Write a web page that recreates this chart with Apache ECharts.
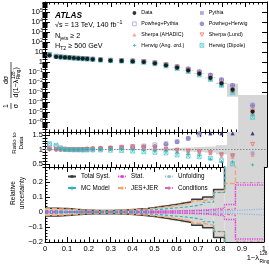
<!DOCTYPE html>
<html><head><meta charset="utf-8">
<script src="https://cdn.jsdelivr.net/npm/echarts@6/dist/echarts.min.js"></script>
<style>html,body{margin:0;padding:0;background:#fff}#c{width:269px;height:274px}</style>
</head><body><div id="c"></div>
<script>
// ---------------- data ----------------
const binEdges = [0,0.04,0.06,0.08,0.10,0.12,0.14,0.16,0.18,0.20,0.23,0.27,0.32,0.37,0.42,0.47,0.52,0.57,0.62,0.67,0.72,0.77,0.82,0.87,1.0];
const dataValues = [4.6,3.3,3.1,2.9,2.7,2.5,2.35,2.2,2.05,1.85,1.6,1.4,1.28,1.15,1.0,0.74,0.46,0.27,0.145,0.068,0.026,0.0075,0.0017,1.1e-5];

const ratioPythia       = [1.01,1.00,1.00,1.00,1.00,1.00,1.00,1.00,1.01,1.01,1.02,1.03,1.04,1.05,1.05,1.04,1.02,0.99,0.95,0.92,0.88,0.84,0.81,0.87];
const ratioPowhegPythia = [1.16,1.12,1.05,1.02,1.00,0.99,0.99,0.99,1.00,1.01,1.02,1.04,1.06,1.09,1.12,1.16,1.20,1.27,1.38,1.50,1.75,2.10,2.60,4.50];
const ratioPowhegHerwig = [1.03,1.01,1.00,1.00,1.00,1.00,1.00,1.01,1.02,1.03,1.04,1.05,1.06,1.07,1.09,1.11,1.18,1.26,1.38,1.55,1.90,2.20,2.60,4.00];
const ratioSherpaAhadic = [1.02,1.01,1.00,1.00,1.00,1.00,1.00,1.01,1.01,1.02,1.03,1.04,1.06,1.09,1.05,1.00,0.97,0.93,0.90,0.90,0.87,0.77,0.74,0.81];
const ratioSherpaLund   = [1.00,1.00,1.00,1.00,1.00,1.00,1.00,1.00,1.01,1.02,1.03,1.05,1.08,1.10,1.08,1.05,1.02,0.98,0.95,0.93,0.90,0.82,0.78,1.18];
const ratioHerwigAng    = [1.00,1.00,1.00,0.99,0.99,0.99,0.99,1.00,1.00,1.00,1.00,1.01,1.00,0.99,0.97,0.95,0.97,0.90,0.84,0.80,0.67,0.58,0.58,0.47];
const ratioHerwigDipole = [1.20,1.15,1.05,1.00,0.99,0.99,0.99,0.98,0.98,0.98,0.98,0.97,0.96,0.94,0.92,0.90,0.88,0.81,0.77,0.75,0.70,0.62,0.50,0.27];

const totalSystUp   = [0.025,0.025,0.024,0.023,0.021,0.018,0.016,0.014,0.012,0.011,0.010,0.011,0.013,0.018,0.024,0.033,0.044,0.055,0.068,0.085,0.100,0.150,3.0,45];
const totalSystDown = [0.026,0.026,0.025,0.024,0.022,0.019,0.017,0.015,0.013,0.012,0.011,0.012,0.014,0.019,0.025,0.034,0.045,0.057,0.070,0.088,0.105,0.170,0.8,1.0];
const statUnc       = [0.003,0.003,0.003,0.003,0.003,0.003,0.003,0.003,0.003,0.003,0.003,0.003,0.003,0.004,0.004,0.005,0.006,0.008,0.010,0.013,0.018,0.025,0.050,0.180];
const mcModelUnc    = [0.010,0.008,0.006,0.005,0.004,0.004,0.004,0.004,0.004,0.004,0.004,0.004,0.005,0.008,0.012,0.017,0.024,0.030,0.038,0.050,0.065,0.130,0.5,0.5];
const jesJerUp      = [0.022,0.021,0.020,0.019,0.018,0.016,0.014,0.012,0.011,0.010,0.009,0.010,0.012,0.016,0.021,0.028,0.038,0.048,0.060,0.075,0.088,0.130,0.190,0.5];
const jesJerDown    = [0.022,0.021,0.020,0.019,0.018,0.016,0.014,0.012,0.011,0.010,0.009,0.010,0.012,0.016,0.021,0.028,0.038,0.048,0.060,0.075,0.088,0.130,0.5,0.5];
const unfoldingUnc  = [0.003,0.003,0.003,0.003,0.003,0.003,0.003,0.003,0.003,0.003,0.003,0.003,0.003,0.003,0.003,0.003,0.004,0.004,0.004,0.005,0.005,0.006,0.010,0.020];
const conditionsUnc = [0.004,0.004,0.003,0.003,0.003,0.003,0.003,0.003,0.003,0.003,0.003,0.003,0.003,0.004,0.004,0.005,0.006,0.007,0.008,0.010,0.012,0.015,0.020,0.195];

const xTickLabels = [0,0.1,0.2,0.3,0.4,0.5,0.6,0.7,0.8,0.9,1];
const mainTickLabels = [1e5,1e4,1e3,1e2,10,1,1e-1,1e-2,1e-3,1e-4,1e-5,1e-6];
const ratioTickLabels = [0.5,1,1.5];
const mainRange = [1e-7, 1e6];
const ratioRange = [0.4, 1.6];
const uncRange = [-0.2, 0.3];

// ---------------- helpers ----------------
const FONT = '"Liberation Sans", Arial, Helvetica, sans-serif';
const centers = binEdges.slice(0, -1).map((e, i) => (e + binEdges[i + 1]) / 2);
const BAND = '#d6d6d6';

const C = {
  data: '#000000', pythia: '#9f93cf', powPy: '#a7a2dc', powHw: '#7565b0',
  shA: '#f58a7e', shL: '#ef6a5c', hwA: '#18a9ae', hwD: '#3cc4c4', arrow: '#43357f'
};
const SYM = {
  circleCross: 'path://M5,0 A5,5 0 1 1 4.99,0 Z M0,5 L10,5 M5,0 L5,10',
  invTri: 'path://M0,0 L10,0 L5,9 Z',
  star4: 'path://M5,0 L6.6,3.4 L10,5 L6.6,6.6 L5,10 L3.4,6.6 L0,5 L3.4,3.4 Z',
  boxX: 'path://M0,0 L10,0 L10,10 L0,10 Z M0,0 L10,10 M10,0 L0,10'
};
const HOLLOW = 'rgba(255,255,255,0)';
const mcDefs = [
  {name: 'Powheg+Pythia', r: ratioPowhegPythia, symbol: 'rect', style: {color: HOLLOW, borderColor: C.powPy, borderWidth: 1}},
  {name: 'Pythia', r: ratioPythia, symbol: 'rect', style: {color: C.pythia, borderWidth: 0}},
  {name: 'Powheg+Herwig', r: ratioPowhegHerwig, symbol: SYM.circleCross, style: {color: '#b6acdf', borderColor: C.powHw, borderWidth: 0.7}},
  {name: 'Sherpa (Lund)', r: ratioSherpaLund, symbol: SYM.invTri, style: {color: HOLLOW, borderColor: C.shL, borderWidth: 1}},
  {name: 'Sherpa (AHADIC)', r: ratioSherpaAhadic, symbol: 'triangle', style: {color: C.shA, borderWidth: 0}},
  {name: 'Herwig (Dipole)', r: ratioHerwigDipole, symbol: SYM.boxX, style: {color: HOLLOW, borderColor: C.hwD, borderWidth: 0.8}},
  {name: 'Herwig (Ang. ord.)', r: ratioHerwigAng, symbol: SYM.star4, style: {color: C.hwA, borderWidth: 0}}
];
const dataDef = {name: 'Data', symbol: 'circle', style: {color: C.data, borderWidth: 0}};

function band(xi, yi, lo, hi, rng) {
  const items = centers.map((c, i) => [binEdges[i], binEdges[i + 1],
    Math.min(Math.max(lo[i], rng[0]), rng[1]), Math.max(Math.min(hi[i], rng[1]), rng[0])]);
  return {
    type: 'custom', xAxisIndex: xi, yAxisIndex: yi, silent: true, z: 1, data: items,
    encode: {x: [0, 1], y: [2, 3]},
    renderItem: (p, api) => {
      const a = api.coord([api.value(0), api.value(3)]);
      const b = api.coord([api.value(1), api.value(2)]);
      return {type: 'rect', shape: {x: a[0], y: a[1], width: b[0] - a[0], height: b[1] - a[1]}, style: {fill: BAND}};
    }
  };
}
function stepPts(vals, sign) {
  const pts = [];
  vals.forEach((v, i) => { pts.push([binEdges[i], sign * v]); pts.push([binEdges[i + 1], sign * v]); });
  return pts;
}
function stepSeries(name, up, down, ls, z) {
  return [1, -1].map(s => ({
    type: 'line', name, xAxisIndex: 4, yAxisIndex: 6, symbol: 'none', z: z || 3,
    data: stepPts(s > 0 ? up : down, s), lineStyle: ls, itemStyle: {color: ls.color},
    animation: false, silent: true
  }));
}

// ---------------- series ----------------
const series = [];
// main panel
series.push(band(0, 0, dataValues.map((d, i) => d * (1 - totalSystDown[i])), dataValues.map((d, i) => d * (1 + totalSystUp[i])), mainRange));
mcDefs.forEach(m => series.push({
  type: 'scatter', name: m.name, xAxisIndex: 0, yAxisIndex: 0, symbol: m.symbol, symbolSize: 4, z: 3,
  itemStyle: m.style, data: centers.map((c, i) => [c, dataValues[i] * m.r[i]])
}));
series.push({type: 'scatter', name: 'Data', xAxisIndex: 0, yAxisIndex: 0, symbol: 'circle', symbolSize: 4.2, z: 4,
  itemStyle: dataDef.style, data: centers.map((c, i) => [c, dataValues[i]])});
// ratio panel
series.push(band(2, 2, totalSystDown.map(v => 1 - v), totalSystUp.map(v => 1 + v), ratioRange));
series.push({type: 'line', xAxisIndex: 2, yAxisIndex: 2, symbol: 'none', z: 2, silent: true,
  data: [[0, 1], [1, 1]], lineStyle: {color: '#8a8a8a', width: 1, type: [1.5, 1.5]}});
mcDefs.forEach(m => series.push({
  type: 'scatter', name: m.name, xAxisIndex: 2, yAxisIndex: 2, symbol: m.symbol, symbolSize: 3.8, z: 3,
  itemStyle: m.style,
  data: centers.map((c, i) => m.r[i] > ratioRange[1]
    ? {value: [c, ratioRange[1] - 0.05], symbol: 'triangle', itemStyle: {color: C.arrow, borderWidth: 0}}
    : [c, m.r[i]])
}));
// uncertainty panel
series.push(band(4, 6, totalSystDown.map(v => -v), totalSystUp, uncRange));
series.push(...stepSeries('Unfolding', unfoldingUnc, unfoldingUnc, {color: '#93b9e4', width: 1.4, type: [1.2, 1.2]}, 3));
series.push(...stepSeries('Conditions', conditionsUnc, conditionsUnc, {color: '#d76bb3', width: 1.2, type: [3, 1.5, 1, 1.5]}, 3));
series.push(...stepSeries('Stat.', statUnc, statUnc, {color: '#e23fe0', width: 1.4, type: [1.2, 1.2]}, 4));
series.push(...stepSeries('MC Model', mcModelUnc, mcModelUnc, {color: '#2fb3b3', width: 1.2, type: [3, 2]}, 4));
series.push(...stepSeries('JES+JER', jesJerUp, jesJerDown, {color: '#f5a26c', width: 1.4, type: [5, 2]}, 3));
series.push(...stepSeries('Total Syst.', totalSystUp, totalSystDown, {color: '#3a3a3a', width: 1.5, type: 'solid'}, 2));

// ---------------- axes ----------------
const axLine = {show: true, onZero: false, lineStyle: {color: '#000', width: 1}};
const tickS = len => ({show: true, inside: true, length: len, lineStyle: {color: '#000', width: 1}});
const lblBase = {fontSize: 7.5, fontFamily: FONT, color: '#000', hideOverlap: false};
function xAx(grid, pos, showLbl) {
  return {type: 'value', gridIndex: grid, position: pos, min: 0, max: 1, interval: 0.1,
    axisLine: axLine, axisTick: tickS(5), minorTick: {show: true, splitNumber: 5, length: 2.5, lineStyle: {color: '#000', width: 1}},
    splitLine: {show: false},
    axisLabel: Object.assign({show: showLbl, margin: 3, showMinLabel: true, showMaxLabel: true,
      customValues: xTickLabels, formatter: v => String(+v.toFixed(1))}, lblBase)};
}
const logMinor = [];
for (let n = -7; n < 6; n++) for (let m = 2; m <= 9; m++) logMinor.push(n + Math.log10(m));
function logLabel(v) {
  const e = Math.round(Math.log10(v));
  if (e > 5 || e < -6) return '';
  if (e === 0) return '1';
  if (e === 1) return '10';
  return '10{s|' + (e < 0 ? '−' + (-e) : e) + '}';
}
function mainY(pos, showLbl) {
  return {type: 'log', logBase: 10, gridIndex: 0, position: pos, min: mainRange[0], max: mainRange[1], splitNumber: 13,
    axisLine: axLine, axisTick: Object.assign(tickS(5), {customValues: mainTickLabels.concat([1e6, 1e-7])}), splitLine: {show: false},
    axisLabel: Object.assign({show: showLbl, margin: 2, lineHeight: 9, formatter: logLabel, customValues: mainTickLabels,
      rich: {s: {fontSize: 5.5, fontFamily: FONT, color: '#000', verticalAlign: 'top', lineHeight: 5}}}, lblBase)};
}
function mainYMinor(pos) {
  return {type: 'value', gridIndex: 0, position: pos, min: -7, max: 6,
    axisLine: {show: false}, axisLabel: {show: false}, splitLine: {show: false},
    axisTick: Object.assign(tickS(2.5), {customValues: logMinor})};
}
function ratioY(pos, showLbl) {
  return {type: 'value', gridIndex: 1, position: pos, min: ratioRange[0], max: ratioRange[1],
    axisLine: axLine, splitLine: {show: false},
    axisTick: Object.assign(tickS(5), {customValues: ratioTickLabels}),
    axisLabel: Object.assign({show: showLbl, margin: 2, customValues: ratioTickLabels, formatter: v => String(+v.toFixed(1))}, lblBase)};
}
function ratioYMinor(pos) {
  return {type: 'value', gridIndex: 1, position: pos, min: ratioRange[0], max: ratioRange[1], interval: 0.1,
    axisLine: {show: false}, axisLabel: {show: false}, splitLine: {show: false}, axisTick: tickS(2.5)};
}
function uncY(pos, showLbl) {
  return {type: 'value', gridIndex: 2, position: pos, min: uncRange[0], max: uncRange[1], interval: 0.1,
    axisLine: axLine, axisTick: tickS(5), splitLine: {show: false},
    minorTick: {show: true, splitNumber: 5, length: 2.5, lineStyle: {color: '#000', width: 1}},
    axisLabel: Object.assign({show: showLbl, margin: 2, showMaxLabel: true, formatter: v => {
      if (Math.abs(v - 0.3) < 1e-6) return '';
      const s = Math.abs(v).toFixed(1).replace(/^0\.0$/, '0');
      return (v < -1e-9 ? '−' : '') + s;
    }}, lblBase)};
}

// ---------------- legends ----------------
const allMarkerDefs = [dataDef].concat(mcDefs);
function markerLegendItem(name) {
  const d = allMarkerDefs.find(m => m.name === name);
  return {name, icon: d.symbol, itemStyle: Object.assign({}, d.style)};
}
function legend(names, left, top, iw, fs, lh, gap, markers) {
  return {data: markers ? names.map(markerLegendItem) : names, left, top, orient: 'vertical',
    itemWidth: iw, itemHeight: markers ? 3.8 : 4, itemGap: gap, padding: 0,
    selectedMode: false, textStyle: {fontSize: fs, lineHeight: lh, fontFamily: FONT, color: '#000'}};
}

const supRich = {sup: {fontSize: 5.2, fontFamily: FONT, fill: '#000', verticalAlign: 'top', lineHeight: 5},
                 sub: {fontSize: 5.2, fontFamily: FONT, fill: '#000', verticalAlign: 'bottom', lineHeight: 5}};
const txt = (x, y, text, size, extra) => Object.assign({type: 'text', x, y, silent: true,
  style: {text, fill: '#000', font: size + 'px ' + FONT, verticalAlign: 'middle', lineHeight: 10, rich: supRich}}, extra || {});

const option = {
  animation: false,
  backgroundColor: '#fff',
  grid: [
    {left: 45, top: 2, width: 222, height: 130},
    {left: 45, top: 132, width: 222, height: 35},
    {left: 45, top: 167, width: 222, height: 75}
  ],
  xAxis: [xAx(0, 'bottom', false), xAx(0, 'top', false), xAx(1, 'bottom', false), xAx(1, 'top', false), xAx(2, 'bottom', true), xAx(2, 'top', false)],
  yAxis: [mainY('left', true), mainY('right', false), ratioY('left', true), ratioYMinor('left'), ratioY('right', false), ratioYMinor('right'),
          uncY('left', true), uncY('right', false), mainYMinor('left'), mainYMinor('right')],
  legend: [
    legend(['Data', 'Powheg+Pythia', 'Sherpa (AHADIC)', 'Herwig (Ang. ord.)'], 132, 10, 3.8, 5.3, 6, 4.8, true),
    legend(['Pythia', 'Powheg+Herwig', 'Sherpa (Lund)', 'Herwig (Dipole)'], 199.5, 10, 3.8, 5.3, 6, 4.8, true),
    legend(['Total Syst.', 'MC Model'], 67, 173, 8, 6.3, 7, 4.6),
    legend(['Stat.', 'JES+JER'], 117, 173, 8, 6.3, 7, 4.6),
    legend(['Unfolding', 'Conditions'], 164, 173, 8, 6.3, 7, 4.6)
  ],
  graphic: [
    {type: 'text', x: 55, y: 16, silent: true, style: {text: 'ATLAS', fill: '#000', font: 'italic bold 8.3px ' + FONT, verticalAlign: 'middle'}},
    txt(55, 25.5, '√s = 13 TeV, 140 fb{sup|−1}', 7.2),
    txt(55, 36, 'N{sub|jets} ≥ 2', 7.2),
    txt(55, 46.5, 'H{sub|T2} ≥ 500 GeV', 7.2),
    // main y title (rotated)
    {type: 'group', x: 11, y: 85, rotation: Math.PI / 2, silent: true, children: [
      {type: 'text', x: -21, y: -4.5, style: {text: '1', fill: '#000', font: '7px ' + FONT, align: 'center', verticalAlign: 'middle'}},
      {type: 'line', shape: {x1: -24, y1: 0, x2: -18, y2: 0}, style: {stroke: '#000', lineWidth: 0.7}},
      {type: 'text', x: -21, y: 5, style: {text: 'σ', fill: '#000', font: '7px ' + FONT, align: 'center', verticalAlign: 'middle'}},
      {type: 'text', x: 5, y: -4.5, style: {text: 'dσ', fill: '#000', font: '7px ' + FONT, align: 'center', verticalAlign: 'middle'}},
      {type: 'line', shape: {x1: -13, y1: 0, x2: 23, y2: 0}, style: {stroke: '#000', lineWidth: 0.7}},
      {type: 'text', x: -12.5, y: 5.5, style: {text: 'd(1−λ', fill: '#000', font: '7px ' + FONT, align: 'left', verticalAlign: 'middle'}},
      {type: 'text', x: 6, y: 2.5, style: {text: '128', fill: '#000', font: '4.5px ' + FONT, align: 'left', verticalAlign: 'middle'}},
      {type: 'text', x: 6, y: 8, style: {text: 'Ring', fill: '#000', font: '4.5px ' + FONT, align: 'left', verticalAlign: 'middle'}},
      {type: 'text', x: 15.5, y: 5.5, style: {text: ')', fill: '#000', font: '7px ' + FONT, align: 'left', verticalAlign: 'middle'}}
    ]},
    {type: 'text', x: 18, y: 143, rotation: Math.PI / 2, silent: true,
      style: {text: 'Ratio to\nData', fill: '#000', font: '6.2px ' + FONT, align: 'center', verticalAlign: 'middle', lineHeight: 7}},
    {type: 'text', x: 17.5, y: 193, rotation: Math.PI / 2, silent: true,
      style: {text: 'Relative\nuncertainty', fill: '#000', font: '6.6px ' + FONT, align: 'center', verticalAlign: 'middle', lineHeight: 8.5}},
    // x title
    {type: 'text', x: 259, y: 257.5, silent: true, style: {text: '1−λ', fill: '#000', font: '7.5px ' + FONT, align: 'right', verticalAlign: 'middle'}},
    {type: 'text', x: 259.5, y: 254, silent: true, style: {text: '128', fill: '#000', font: '4.8px ' + FONT, align: 'left', verticalAlign: 'middle'}},
    {type: 'text', x: 259.5, y: 262, silent: true, style: {text: 'Ring', fill: '#000', font: '4.8px ' + FONT, align: 'left', verticalAlign: 'middle'}}
  ],
  series
};

const chart = echarts.init(document.getElementById('c'), null, {renderer: 'canvas'});
chart.setOption(option);
</script>
</body></html>
